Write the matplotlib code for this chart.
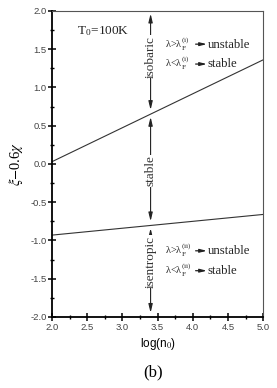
import matplotlib.pyplot as plt
import numpy as np

# data
log_n0 = [2.0, 5.0]
upper_curve = [0.03, 1.36]   # isobaric criterion boundary
lower_curve = [-0.93, -0.66]  # isentropic criterion boundary
x_marker = 3.4
x_ticks = [2.0, 2.5, 3.0, 3.5, 4.0, 4.5, 5.0]
y_ticks = [-2.0, -1.5, -1.0, -0.5, 0.0, 0.5, 1.0, 1.5, 2.0]
region_names = ['isobaric', 'stable', 'isentropic']

serif = ['Liberation Serif', 'DejaVu Serif']
sans = ['Liberation Sans', 'DejaVu Sans']
plt.rcParams['mathtext.fontset'] = 'stix'

fig = plt.figure(figsize=(2.77, 3.88), dpi=100)
ax = fig.add_axes([0.188, 0.183, 0.762, 0.789])

ax.plot(log_n0, upper_curve, color='#333333', lw=0.8)
ax.plot(log_n0, lower_curve, color='#333333', lw=0.8)

ax.set_xlim(2.0, 5.0)
ax.set_ylim(-2.0, 2.0)
ax.set_xticks(x_ticks)
ax.set_yticks(y_ticks)
ax.set_xticklabels([f'{v:.1f}' for v in x_ticks], family=sans)
ax.set_yticklabels([f'{v:.1f}' for v in y_ticks], family=sans)
ax.set_xticks(np.array(x_ticks[:-1]) + 0.25, minor=True)
ax.set_yticks(np.array(y_ticks[:-1]) + 0.25, minor=True)
ax.tick_params(which='major', direction='inout', length=6, width=1.1,
               labelsize=6.8, labelcolor='#444444', pad=1)
ax.tick_params(which='minor', direction='inout', length=3.5, width=1.0)

for s in ['left', 'bottom']:
    ax.spines[s].set_linewidth(1.3)
for s in ['top', 'right']:
    ax.spines[s].set_linewidth(0.8)
    ax.spines[s].set_color('#555555')

# vertical double arrows at log(n0)=3.4
y_up = np.interp(x_marker, log_n0, upper_curve)
y_lo = np.interp(x_marker, log_n0, lower_curve)
ends = [(2.0, y_up), (y_up, y_lo), (y_lo, -2.0)]
label_y = [1.40, -0.09, -1.28]
for (top, bottom), name, ly in zip(ends, region_names, label_y):
    ax.annotate('', xy=(x_marker, top), xytext=(x_marker, bottom),
                arrowprops=dict(arrowstyle='<|-|>,head_length=0.5,head_width=0.12',
                                color='#222222', lw=0.8, shrinkA=3, shrinkB=2))
    ax.text(x_marker, ly, name, rotation=90, ha='center', va='center',
            fontsize=9.5, family=serif, color='#333333',
            bbox=dict(facecolor='white', edgecolor='none', pad=0.3))

ax.text(2.36, 1.69, r'T$_\mathregular{0}$=100K', fontsize=9.5, family=serif, color='#222222')

rows = [(1.52, '>', '(i)', 'unstable'), (1.26, '<', '(i)', 'stable'),
        (-1.18, '>', '(ii)', 'unstable'), (-1.44, '<', '(ii)', 'stable')]
for y, sign, sup, word in rows:
    ax.text(3.6, y, 'λ' + sign + r'λ$_\mathregular{F}^{\mathregular{' + sup + '}}$',
            fontsize=7.5, family=serif, color='#222222')
    ax.annotate('', xy=(4.2, y + 0.045), xytext=(4.04, y + 0.045),
                arrowprops=dict(arrowstyle='-|>,head_length=0.4,head_width=0.1',
                                color='#222222', lw=0.9, shrinkA=0, shrinkB=0))
    ax.text(4.21, y, word, fontsize=9.2, family=serif, color='#222222')

ax.set_xlabel(r'log(n$_0$)', fontsize=8.5, family=sans, labelpad=3)
ax.set_ylabel(r'$\xi$$-$0.6$\chi$', fontsize=10.5, family=serif, labelpad=4)
fig.text(0.553, 0.03, '(b)', fontsize=12, family=serif, ha='center')

fig.savefig('out.png', dpi=100)
